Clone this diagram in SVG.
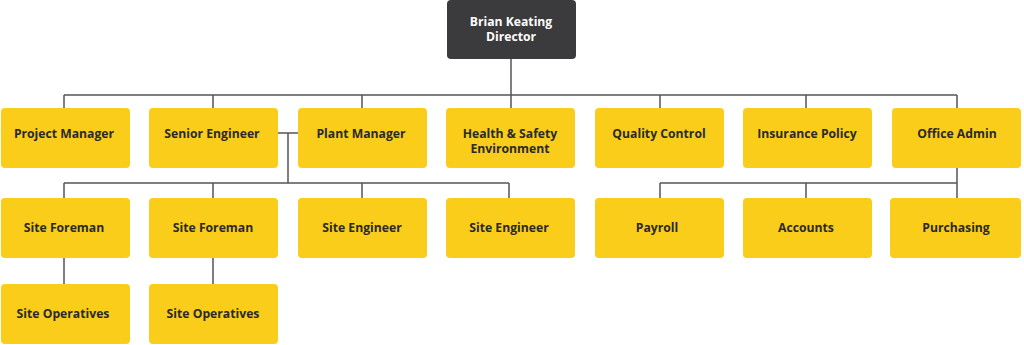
<svg xmlns="http://www.w3.org/2000/svg" width="1024" height="345" viewBox="0 0 1024 345">
<style>
.box{fill:#FACD1B}
.dir{fill:#3B3A3C}
.t{font-family:"Open Sans","Liberation Sans",sans-serif;font-weight:700;font-size:12.2px;fill:#2A2A2A;text-anchor:middle}
.tw{fill:#FFFFFF}
.c{stroke:#555555;stroke-width:1.5;fill:none}
</style>
<rect width="1024" height="345" fill="#FFFFFF"/>
<g id="connectors">
<path class="c" d="M511 59V95M64 95H957M64 95V108M213 95V108M362 95V108M511 95V108M660 95V108M806 95V108M957 95V108"/>
<path class="c" d="M278 133H298M288 133V183M64 183H509M64 183V198M213 183V198M362 183V198M509 183V198"/>
<path class="c" d="M64 258V284M213 258V284"/>
<path class="c" d="M957 168V198M660 183H957M660 183V198M806 183V198"/>
</g>
<g id="director"><rect class="dir" x="447" y="0" width="129" height="59" rx="4"/><text class="t tw" x="511" y="26">Brian Keating</text><text class="t tw" x="511" y="41">Director</text></g>
<g id="project-manager"><rect class="box" x="1" y="108" width="129" height="60" rx="4"/><text class="t" x="64" y="138">Project Manager</text></g>
<g id="senior-engineer"><rect class="box" x="149" y="108" width="129" height="60" rx="4"/><text class="t" x="212" y="138">Senior Engineer</text></g>
<g id="plant-manager"><rect class="box" x="298" y="108" width="129" height="60" rx="4"/><text class="t" x="361" y="138">Plant Manager</text></g>
<g id="health-safety"><rect class="box" x="446" y="108" width="129" height="60" rx="4"/><text class="t" x="510" y="138">Health &amp; Safety</text><text class="t" x="510" y="153">Environment</text></g>
<g id="quality-control"><rect class="box" x="595" y="108" width="129" height="60" rx="4"/><text class="t" x="659" y="138">Quality Control</text></g>
<g id="insurance-policy"><rect class="box" x="743" y="108" width="129" height="60" rx="4"/><text class="t" x="807" y="138">Insurance Policy</text></g>
<g id="office-admin"><rect class="box" x="892" y="108" width="129" height="60" rx="4"/><text class="t" x="957" y="138">Office Admin</text></g>
<g id="site-foreman-1"><rect class="box" x="1" y="198" width="129" height="60" rx="4"/><text class="t" x="64" y="232">Site Foreman</text></g>
<g id="site-foreman-2"><rect class="box" x="149" y="198" width="129" height="60" rx="4"/><text class="t" x="213" y="232">Site Foreman</text></g>
<g id="site-engineer-1"><rect class="box" x="298" y="198" width="129" height="60" rx="4"/><text class="t" x="362" y="232">Site Engineer</text></g>
<g id="site-engineer-2"><rect class="box" x="446" y="198" width="129" height="60" rx="4"/><text class="t" x="509" y="232">Site Engineer</text></g>
<g id="payroll"><rect class="box" x="595" y="198" width="129" height="60" rx="4"/><text class="t" x="657" y="232">Payroll</text></g>
<g id="accounts"><rect class="box" x="743" y="198" width="129" height="60" rx="4"/><text class="t" x="806" y="232">Accounts</text></g>
<g id="purchasing"><rect class="box" x="890" y="198" width="131" height="60" rx="4"/><text class="t" x="956" y="232">Purchasing</text></g>
<g id="site-operatives-1"><rect class="box" x="1" y="284" width="129" height="60" rx="4"/><text class="t" x="63" y="318">Site Operatives</text></g>
<g id="site-operatives-2"><rect class="box" x="149" y="284" width="129" height="60" rx="4"/><text class="t" x="213" y="318">Site Operatives</text></g>
</svg>
